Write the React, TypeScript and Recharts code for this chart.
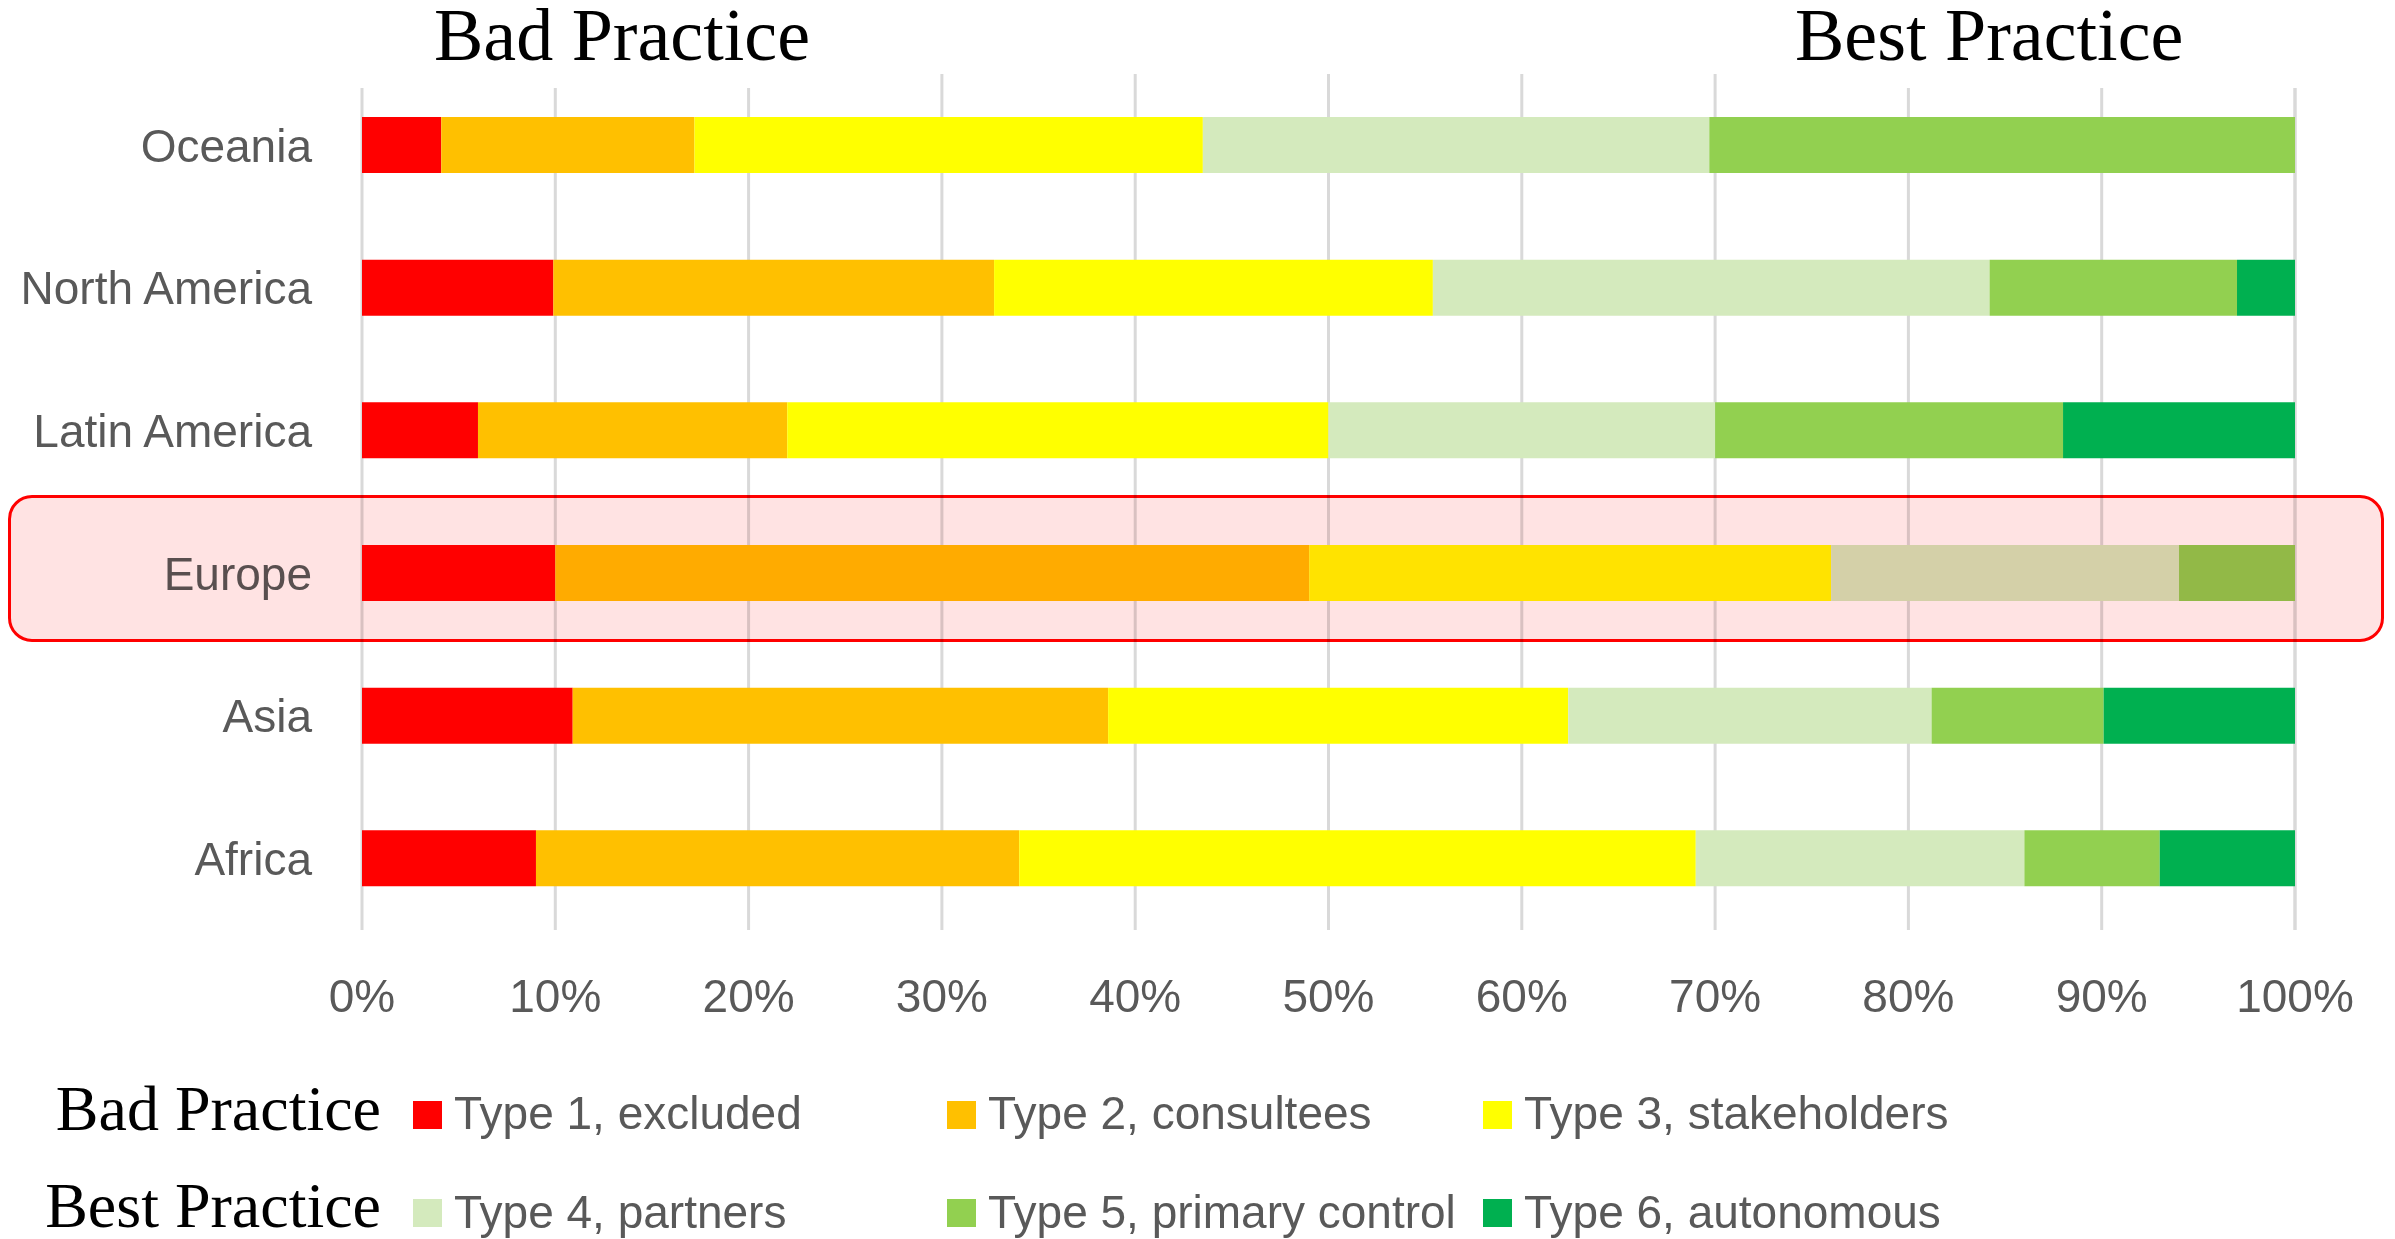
import { BarChart, Bar, XAxis, YAxis, CartesianGrid } from 'recharts'

const regions = ['Oceania', 'North America', 'Latin America', 'Europe', 'Asia', 'Africa']

// share of each participation type per region, in %
const type1 = [4.1, 9.9, 6, 10, 10.9, 9]
const type2 = [13.1, 22.8, 16, 39, 27.7, 25]
const type3 = [26.3, 22.7, 28, 27, 23.8, 35]
const type4 = [26.2, 28.8, 20, 18, 18.8, 17]
const type5 = [30.3, 12.8, 18, 6, 8.9, 7]
const type6 = [0, 3.0, 12, 0, 9.9, 7]

const seriesNames = [
  'Type 1, excluded',
  'Type 2, consultees',
  'Type 3, stakeholders',
  'Type 4, partners',
  'Type 5, primary control',
  'Type 6, autonomous',
]
const seriesColors = ['#ff0000', '#ffc000', '#ffff00', '#d4eabd', '#92d050', '#00b050']
const seriesValues = [type1, type2, type3, type4, type5, type6]

const xTicks = [0, 10, 20, 30, 40, 50, 60, 70, 80, 90, 100]

const data = regions.map((region, i) => {
  const row: Record<string, string | number> = { region }
  seriesValues.forEach((vals, s) => {
    row['t' + (s + 1)] = vals[i]
  })
  return row
})

const sans = "'Liberation Sans', Arial, sans-serif"
const serif = "'Liberation Serif', 'Times New Roman', serif"
const gray = '#595959'

const legendCols = [413, 947, 1483]
const legendRows = [
  { title: 'Bad Practice', swatchTop: 1101, textTop: 1090, titleTop: 1079 },
  { title: 'Best Practice', swatchTop: 1199, textTop: 1189, titleTop: 1176 },
]

export default function App() {
  return (
    <div
      style={{
        position: 'absolute',
        left: 0,
        top: 0,
        width: 2395,
        height: 1239,
        background: '#fff',
        overflow: 'hidden',
        fontFamily: sans,
      }}
    >
      <BarChart
        width={2395}
        height={1239}
        data={data}
        layout="vertical"
        margin={{ top: 74, right: 100, bottom: 229, left: 0 }}
        barSize={56}
      >
        <CartesianGrid horizontal={false} stroke="#d9d9d9" strokeWidth={3} />
        <XAxis
          type="number"
          domain={[0, 100]}
          ticks={xTicks}
          interval={0}
          height={80}
          axisLine={false}
          tickLine={false}
          tickSize={0}
          tickMargin={49}
          tickFormatter={(v: number) => `${v}%`}
          tick={{ fill: gray, fontSize: 46, fontFamily: sans }}
        />
        <YAxis
          type="category"
          dataKey="region"
          width={362}
          axisLine={false}
          tickLine={false}
          tickSize={0}
          tickMargin={50}
          tick={{ fill: gray, fontSize: 46, fontFamily: sans }}
        />
        {seriesNames.map((name, s) => (
          <Bar
            key={name}
            dataKey={'t' + (s + 1)}
            name={name}
            stackId="a"
            fill={seriesColors[s]}
            isAnimationActive={false}
          />
        ))}
      </BarChart>

      {/* title boxes over the top of the grid */}
      <div
        style={{
          position: 'absolute',
          left: 350,
          top: 0,
          width: 510,
          height: 88,
          background: '#fff',
        }}
      />
      <div
        style={{
          position: 'absolute',
          left: 1760,
          top: 0,
          width: 560,
          height: 88,
          background: '#fff',
        }}
      />
      <div
        style={{
          position: 'absolute',
          left: 434,
          top: 0,
          fontFamily: serif,
          fontSize: 74,
          lineHeight: '70px',
          color: '#000',
          whiteSpace: 'nowrap',
        }}
      >
        Bad Practice
      </div>
      <div
        style={{
          position: 'absolute',
          left: 1795,
          top: 0,
          fontFamily: serif,
          fontSize: 74,
          lineHeight: '70px',
          color: '#000',
          whiteSpace: 'nowrap',
        }}
      >
        Best Practice
      </div>

      {/* Europe highlight */}
      <div
        style={{
          position: 'absolute',
          left: 8,
          top: 495,
          width: 2376,
          height: 147,
          boxSizing: 'border-box',
          border: '3px solid #ff0000',
          borderRadius: 24,
          background: '#ffe3e3',
          mixBlendMode: 'multiply',
        }}
      />

      {/* legend */}
      {legendRows.map((row, r) => (
        <div key={row.title}>
          <div
            style={{
              position: 'absolute',
              right: 2395 - 381,
              top: row.titleTop,
              fontFamily: serif,
              fontSize: 64,
              lineHeight: '60px',
              color: '#000',
              whiteSpace: 'nowrap',
            }}
          >
            {row.title}
          </div>
          {legendCols.map((x, c) => {
            const s = r * 3 + c
            return (
              <div key={seriesNames[s]}>
                <div
                  style={{
                    position: 'absolute',
                    left: x,
                    top: row.swatchTop,
                    width: 29,
                    height: 28,
                    background: seriesColors[s],
                  }}
                />
                <div
                  style={{
                    position: 'absolute',
                    left: x + 41,
                    top: row.textTop,
                    fontSize: 46,
                    lineHeight: '46px',
                    color: gray,
                    whiteSpace: 'nowrap',
                  }}
                >
                  {seriesNames[s]}
                </div>
              </div>
            )
          })}
        </div>
      ))}
    </div>
  )
}
